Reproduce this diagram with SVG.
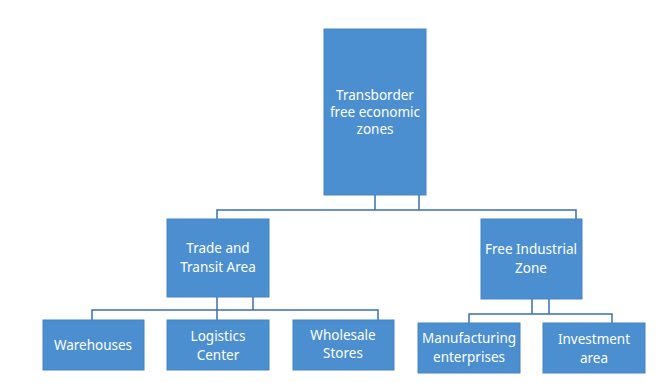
<svg xmlns="http://www.w3.org/2000/svg" width="657" height="383" viewBox="0 0 657 383">
<style>
.box{fill:#4b8fd1;stroke:#4583c4;stroke-width:1}
.t{font-family:"Noto Sans","Open Sans",sans-serif;font-size:13.5px;fill:#ffffff;text-anchor:middle;dominant-baseline:central}
.c{fill:none;stroke:#3a6fae;stroke-width:1.5}
</style>
<rect width="657" height="383" fill="#ffffff"/>
<g id="connectors">
<path class="c" d="M375 195V210M419 195V210M217 219V210H576V219"/>
<path class="c" d="M217 297V310M253 297V310M92 320V310H378V320M217 310V320"/>
<path class="c" d="M532 299V314M549 299V314M469 323V314H612V323"/>
</g>
<g id="n_top"><rect class="box" x="324" y="29" width="102" height="166"/>
<text class="t" x="375" y="95">Transborder</text><text class="t" x="375" y="112">free economic</text><text class="t" x="375" y="129">zones</text></g>
<g id="n_trade"><rect class="box" x="167" y="219" width="102" height="78"/>
<text class="t" x="218" y="248">Trade and</text><text class="t" x="218" y="267">Transit Area</text></g>
<g id="n_free"><rect class="box" x="481" y="219" width="101" height="80"/>
<text class="t" x="531" y="249">Free Industrial</text><text class="t" x="531" y="268">Zone</text></g>
<g id="n_wh"><rect class="box" x="43" y="320" width="101" height="50"/>
<text class="t" x="93" y="345">Warehouses</text></g>
<g id="n_log"><rect class="box" x="167" y="320" width="102" height="50"/>
<text class="t" x="218" y="336">Logistics</text><text class="t" x="218" y="355">Center</text></g>
<g id="n_whs"><rect class="box" x="293" y="320" width="101" height="50"/>
<text class="t" x="343" y="335">Wholesale</text><text class="t" x="343" y="353">Stores</text></g>
<g id="n_man"><rect class="box" x="418" y="323" width="102" height="50"/>
<text class="t" x="469" y="338">Manufacturing</text><text class="t" x="469" y="357">enterprises</text></g>
<g id="n_inv"><rect class="box" x="543" y="323" width="102" height="50"/>
<text class="t" x="594" y="339">Investment</text><text class="t" x="594" y="358">area</text></g>
</svg>
